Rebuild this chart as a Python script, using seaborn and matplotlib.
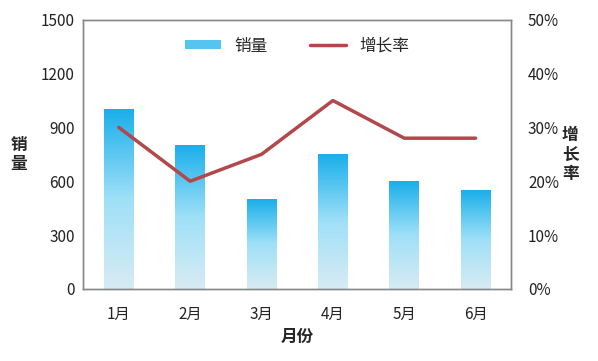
import numpy as np
import pandas as pd
import matplotlib
matplotlib.use('Agg')
import matplotlib.pyplot as plt
import seaborn as sns
from matplotlib.colors import LinearSegmentedColormap
from matplotlib.patches import Patch
from matplotlib.lines import Line2D

# chart data
months = ['1月', '2月', '3月', '4月', '5月', '6月']
sales = [1000, 800, 500, 750, 600, 550]
growth = [0.30, 0.20, 0.25, 0.35, 0.28, 0.28]

df = pd.DataFrame({'月份': months, '销量': sales, '增长率': growth})

sns.set_style('white')
plt.rcParams['font.family'] = ['Noto Sans CJK SC', 'DejaVu Sans']

fig, ax = plt.subplots(figsize=(5.98, 3.61), dpi=100)
fig.subplots_adjust(left=0.139, right=0.855, top=0.945, bottom=0.2)

sns.barplot(data=df, x='月份', y='销量', ax=ax, width=0.42, color='#1AAFEA')

# gradient fill for the bars: deep blue at top, pale at bottom
grad = LinearSegmentedColormap.from_list('g', ['#D8EBF3', '#9FE0F8', '#1AAFEA'])
img = np.linspace(0, 1, 256).reshape(-1, 1)
for p in ax.patches:
    x0, y0 = p.get_x(), p.get_y()
    w, h = p.get_width(), p.get_height()
    ax.imshow(img, cmap=grad, origin='lower', aspect='auto',
              extent=[x0, x0 + w, y0, y0 + h], zorder=2)
    p.set_visible(False)

ax.set_xlim(-0.5, 5.5)
ax.set_ylim(0, 1500)
ax.set_yticks(np.arange(0, 1501, 300))
ax.tick_params(axis='y', length=0, labelsize=11, colors='#222222', pad=6)
ax.tick_params(axis='x', length=0, labelsize=11, colors='#222222', pad=12)
ax.set_xlabel('月份', fontsize=12, fontweight='bold', labelpad=4)
ax.set_ylabel('销\n量', fontsize=12, fontweight='bold', rotation=0,
              va='center', labelpad=16, linespacing=1.1)

ax2 = ax.twinx()
sns.lineplot(x=np.arange(len(months)), y=growth, ax=ax2, color='#B3474C',
             linewidth=2.5, zorder=3)
ax2.set_ylim(0, 0.5)
ax2.set_yticks(np.arange(0, 0.51, 0.1))
ax2.set_yticklabels([f'{int(round(v * 100))}%' for v in np.arange(0, 0.51, 0.1)])
ax2.tick_params(axis='y', length=0, labelsize=11, colors='#222222', pad=12)
ax2.set_ylabel('增\n长\n率', fontsize=12, fontweight='bold', rotation=0,
               va='center', labelpad=8, linespacing=1.1)

for a in (ax, ax2):
    for s in a.spines.values():
        s.set_color('#888888')
        s.set_linewidth(1)

handles = [Patch(facecolor='#55C5F0', edgecolor='none'),
           Line2D([], [], color='#B3474C', linewidth=2.5)]
ax2.legend(handles, ['销量', '增长率'], loc='upper center', ncol=2,
           frameon=False, fontsize=12, bbox_to_anchor=(0.5, 0.99),
           handlelength=2.2, handleheight=0.5, columnspacing=2.5)

fig.savefig('out.png', dpi=100)
